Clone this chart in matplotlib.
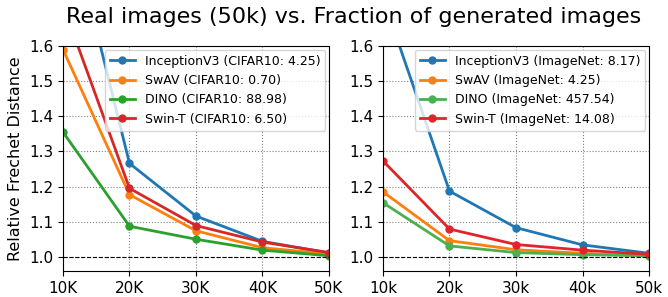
import matplotlib
matplotlib.use('Agg')
import matplotlib.pyplot as plt

# x positions (thousands of generated images)
sizes = [10, 20, 30, 40, 50]
labels_left = ['10K', '20K', '30K', '40K', '50K']
labels_right = ['10k', '20k', '30k', '40k', '50k']

models = ['InceptionV3', 'SwAV', 'DINO', 'Swin-T']
colors_left = ['#1f77b4', '#ff7f0e', '#2ca02c', '#d62728']
colors_right = ['#1f77b4', '#ff7f0e', '#4caf50', '#e0252a']

# CIFAR10 panel
cifar_fd = ['4.25', '0.70', '88.98', '6.50']
cifar_inception = [2.03, 1.266, 1.116, 1.044, 1.011]
cifar_swav = [1.59, 1.177, 1.074, 1.026, 1.008]
cifar_dino = [1.355, 1.087, 1.050, 1.019, 1.003]
cifar_swin = [1.717, 1.195, 1.089, 1.042, 1.012]

# ImageNet panel
imnet_fd = ['8.17', '4.25', '457.54', '14.08']
imnet_inception = [1.737, 1.187, 1.083, 1.034, 1.010]
imnet_swav = [1.185, 1.046, 1.020, 1.010, 1.002]
imnet_dino = [1.154, 1.031, 1.012, 1.006, 1.003]
imnet_swin = [1.273, 1.079, 1.035, 1.019, 1.007]

fig = plt.figure(figsize=(6.68, 2.97), dpi=100)
ax1 = fig.add_axes([0.0943, 0.088, 0.3982, 0.757])
ax2 = fig.add_axes([0.5733, 0.088, 0.3983, 0.757])

panels = [
    (ax1, [cifar_inception, cifar_swav, cifar_dino, cifar_swin], cifar_fd, 'CIFAR10', labels_left, colors_left),
    (ax2, [imnet_inception, imnet_swav, imnet_dino, imnet_swin], imnet_fd, 'ImageNet', labels_right, colors_right),
]

for ax, series, fds, name, xlabels, colors in panels:
    for vals, model, fd, c in zip(series, models, fds, colors):
        ax.plot(sizes, vals, '-o', color=c, lw=2, ms=5,
                label='%s (%s: %s)' % (model, name, fd))
    ax.axhline(1.0, color='black', ls='--', lw=0.8)
    ax.set_xlim(10, 50)
    ax.set_ylim(0.96, 1.6)
    ax.set_xticks(sizes)
    ax.set_xticklabels(xlabels)
    ax.set_yticks([1.0, 1.1, 1.2, 1.3, 1.4, 1.5, 1.6])
    ax.tick_params(labelsize=11)
    ax.grid(True, ls=':', color='gray', lw=0.8)
    ax.legend(loc='upper right', fontsize=9, borderaxespad=0.3)

ax1.set_ylabel('Relative Frechet Distance', fontsize=11.5)
fig.suptitle('Real images (50k) vs. Fraction of generated images', fontsize=16, x=0.53, y=0.975)

fig.savefig('out.png', dpi=100)
